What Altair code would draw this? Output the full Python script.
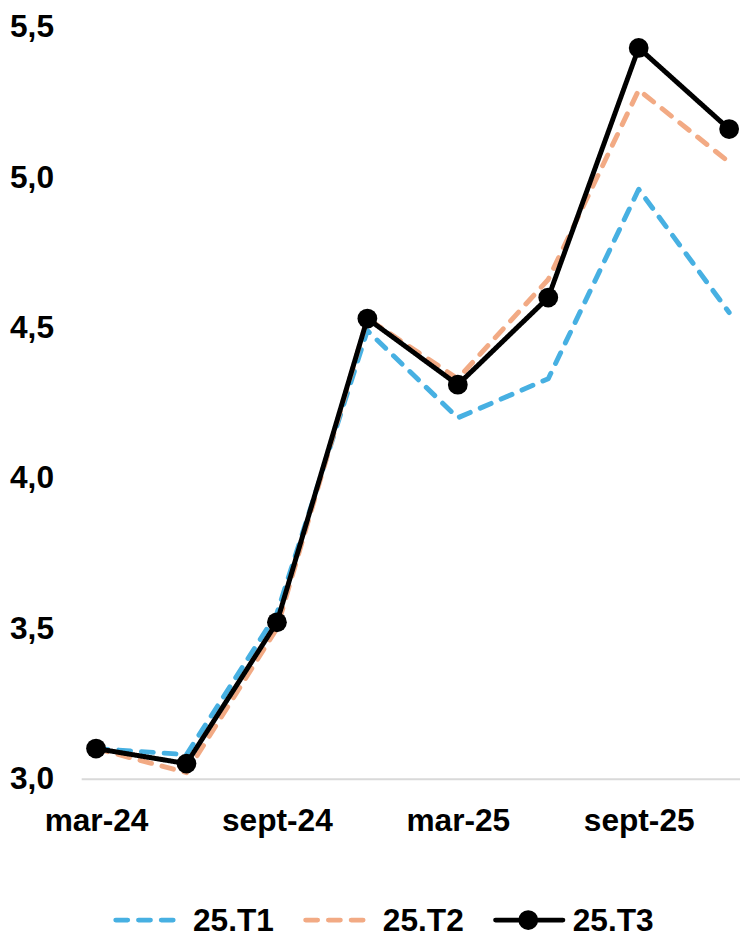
import altair as alt
import pandas as pd

months = ["mar-24", "juin-24", "sept-24", "déc-24", "mar-25", "juin-25", "sept-25", "déc-25"]
series_names = ["25.T1", "25.T2", "25.T3"]
t1 = [3.10, 3.08, 3.55, 4.49, 4.20, 4.33, 4.96, 4.55]
t2 = [3.10, 3.02, 3.50, 4.53, 4.33, 4.66, 5.29, 5.05]
t3 = [3.10, 3.05, 3.52, 4.53, 4.31, 4.60, 5.43, 5.16]
y_ticks = [3.0, 3.5, 4.0, 4.5, 5.0, 5.5]
shown_label_idx = [0, 2, 4, 6]

colors = ["#47B0E2", "#F2AA84", "#000000"]
dashes = [[12, 11], [12, 11], [1, 0]]

rows = []
for name, vals in zip(series_names, [t1, t2, t3]):
    for i, (m, v) in enumerate(zip(months, vals)):
        rows.append({"month": m, "value": v, "series": name, "idx": i})
df = pd.DataFrame(rows)
legend_df = pd.DataFrame({"series": series_names, "pos": list(range(len(series_names)))})

FONT = "Liberation Sans"
FS = 32

color_enc = alt.Color("series:N", scale=alt.Scale(domain=series_names, range=colors), legend=None)
dash_enc = alt.StrokeDash("series:N", scale=alt.Scale(domain=series_names, range=dashes), legend=None)

month_arr = "[" + ",".join(f"'{m}'" for m in months) + "]"

x_enc = alt.X(
    "idx:Q",
    scale=alt.Scale(domain=[-0.164, 7.12], nice=False, zero=False),
    axis=alt.Axis(
        title=None,
        values=shown_label_idx,
        labelExpr=f"{month_arr}[datum.value]",
        labelFont=FONT,
        labelFontSize=FS,
        labelFontWeight="bold",
        labelColor="#000000",
        labelPadding=27,
        labelFlush=False,
        labelOverlap=False,
        ticks=False,
        domain=True,
        domainColor="#D9D9D9",
        domainWidth=2,
        grid=False,
    ),
)
y_enc = alt.Y(
    "value:Q",
    scale=alt.Scale(domain=[3.0, 5.5], nice=False, zero=False),
    axis=alt.Axis(
        title=None,
        values=y_ticks,
        format=".1f",
        labelExpr="replace(datum.label, '.', ',')",
        labelFont=FONT,
        labelFontSize=FS,
        labelFontWeight="bold",
        labelColor="#000000",
        labelPadding=28,
        labelFlush=False,
        labelOverlap=False,
        ticks=False,
        domain=False,
        grid=False,
    ),
)

lines = alt.Chart(df).mark_line(strokeWidth=5, strokeCap="round", strokeJoin="round").encode(
    x=x_enc, y=y_enc, color=color_enc, strokeDash=dash_enc, order="idx:Q", detail="series:N"
)
points = alt.Chart(df[df["series"] == "25.T3"]).mark_point(filled=True, size=400, opacity=1).encode(
    x=x_enc, y=y_enc, color=color_enc
)

main = alt.layer(lines, points)

leg_x = alt.X(
    "pos:Q",
    scale=alt.Scale(domain=[-0.354, 3.115], nice=False, zero=False),
    axis=None,
)
leg_rule = alt.Chart(legend_df).mark_rule(strokeWidth=5, strokeCap="round", xOffset=-33, x2Offset=35).encode(
    x=leg_x, x2="pos:Q", y=alt.value(903), color=color_enc, strokeDash=dash_enc
)
leg_pt = alt.Chart(legend_df[legend_df["series"] == "25.T3"]).mark_point(filled=True, size=400, opacity=1).encode(
    x=leg_x, y=alt.value(903), color=color_enc
)
leg_text = alt.Chart(legend_df).mark_text(
    align="left", baseline="middle", dx=45, font=FONT, fontSize=FS, fontWeight="bold", color="#000000"
).encode(x=leg_x, y=alt.value(904), text="series:N")

legend = alt.layer(leg_rule, leg_pt, leg_text)

chart = alt.layer(main, legend).resolve_scale(x="independent").properties(
    width=666,
    height=760,
    autosize=alt.AutoSizeParams(type="none"),
    padding={"left": 74, "top": 14, "right": 0, "bottom": 156},
).configure_view(stroke=None)

chart.save("out.html", embed_options={"renderer": "svg", "actions": False})
